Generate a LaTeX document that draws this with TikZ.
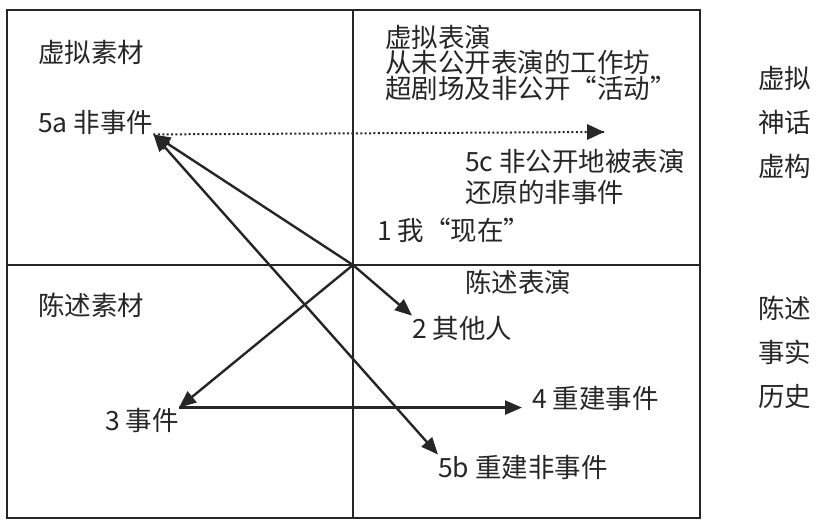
\documentclass[tikz,border=0pt]{standalone}
\usepackage{fontspec}
\setmainfont{Noto Sans CJK SC}
\usepackage{tikz}
\usetikzlibrary{arrows.meta,calc}
\definecolor{ink}{RGB}{38,38,38}

\begin{document}
\begin{tikzpicture}[x=1pt,y=-1pt,>={Triangle[length=17pt,width=14pt]},
    frame/.style={draw=ink,line width=2.4pt},
    txt/.style={anchor=west,inner sep=0pt,text=ink,align=left,font=\fontsize{26.5}{21}\selectfont},
    side/.style={txt,font=\fontsize{26.5}{44}\selectfont},
    arr/.style={draw=ink,line width=2.4pt,->},
    dots/.style={draw=ink,line width=2pt,dash pattern=on 2pt off 2.4pt}]
  \useasboundingbox (0,0) rectangle (819,522);
  % the four fields
  \draw[frame] (7,10) rectangle (700,518);
  \draw[frame] (353,10) -- (353,518);
  \draw[frame] (7,265) -- (700,265);
  \coordinate (ctr) at (353,265);

  \node[txt] (vm) at (38,52) {虚拟素材};
  \node[txt] (vp) at (385,63) {虚拟表演\\从未公开表演的工作坊\\超剧场及非公开“活动”};
  \node[txt] (sm) at (38,305) {陈述素材};
  \node[txt] (sp) at (465,282) {陈述表演};

  \node[txt] (a5) at (38,122) {5a 非事件};
  \node[txt,font=\fontsize{26.5}{31}\selectfont] (c5) at (465,177) {5c 非公开地被表演\\还原的非事件};
  \node[txt] (n1) at (377,230) {1 我“现在”};
  \node[txt] (q2) at (412,328) {2 其他人};
  \node[txt] (e3) at (105,420) {3 事件};
  \node[txt] (r4) at (532,398) {4 重建事件};
  \node[txt] (b5) at (438,467) {5b 重建非事件};

  \node[side] (fic) at (758,122) {虚拟\\神话\\虚构};
  \node[side] (fac) at (758,352) {陈述\\事实\\历史};

  \coordinate (c5tip) at (604,132);
  \draw[dots] (a5.south east) -- (c5tip);
  \fill[ink] (c5tip) -- ++(-17,-8) -- ++(0,16) -- cycle;
  \draw[arr] (ctr) -- (a5.south east);
  \draw[arr,<->] (a5.south east) -- (b5.north west);
  \draw[arr] (ctr) -- (q2.north west);
  \draw[arr] (ctr) -- (e3.north east);
  \draw[arr] (e3.north east) -- ([xshift=-10pt]e3.north east -| r4.west);
\end{tikzpicture}
\end{document}
